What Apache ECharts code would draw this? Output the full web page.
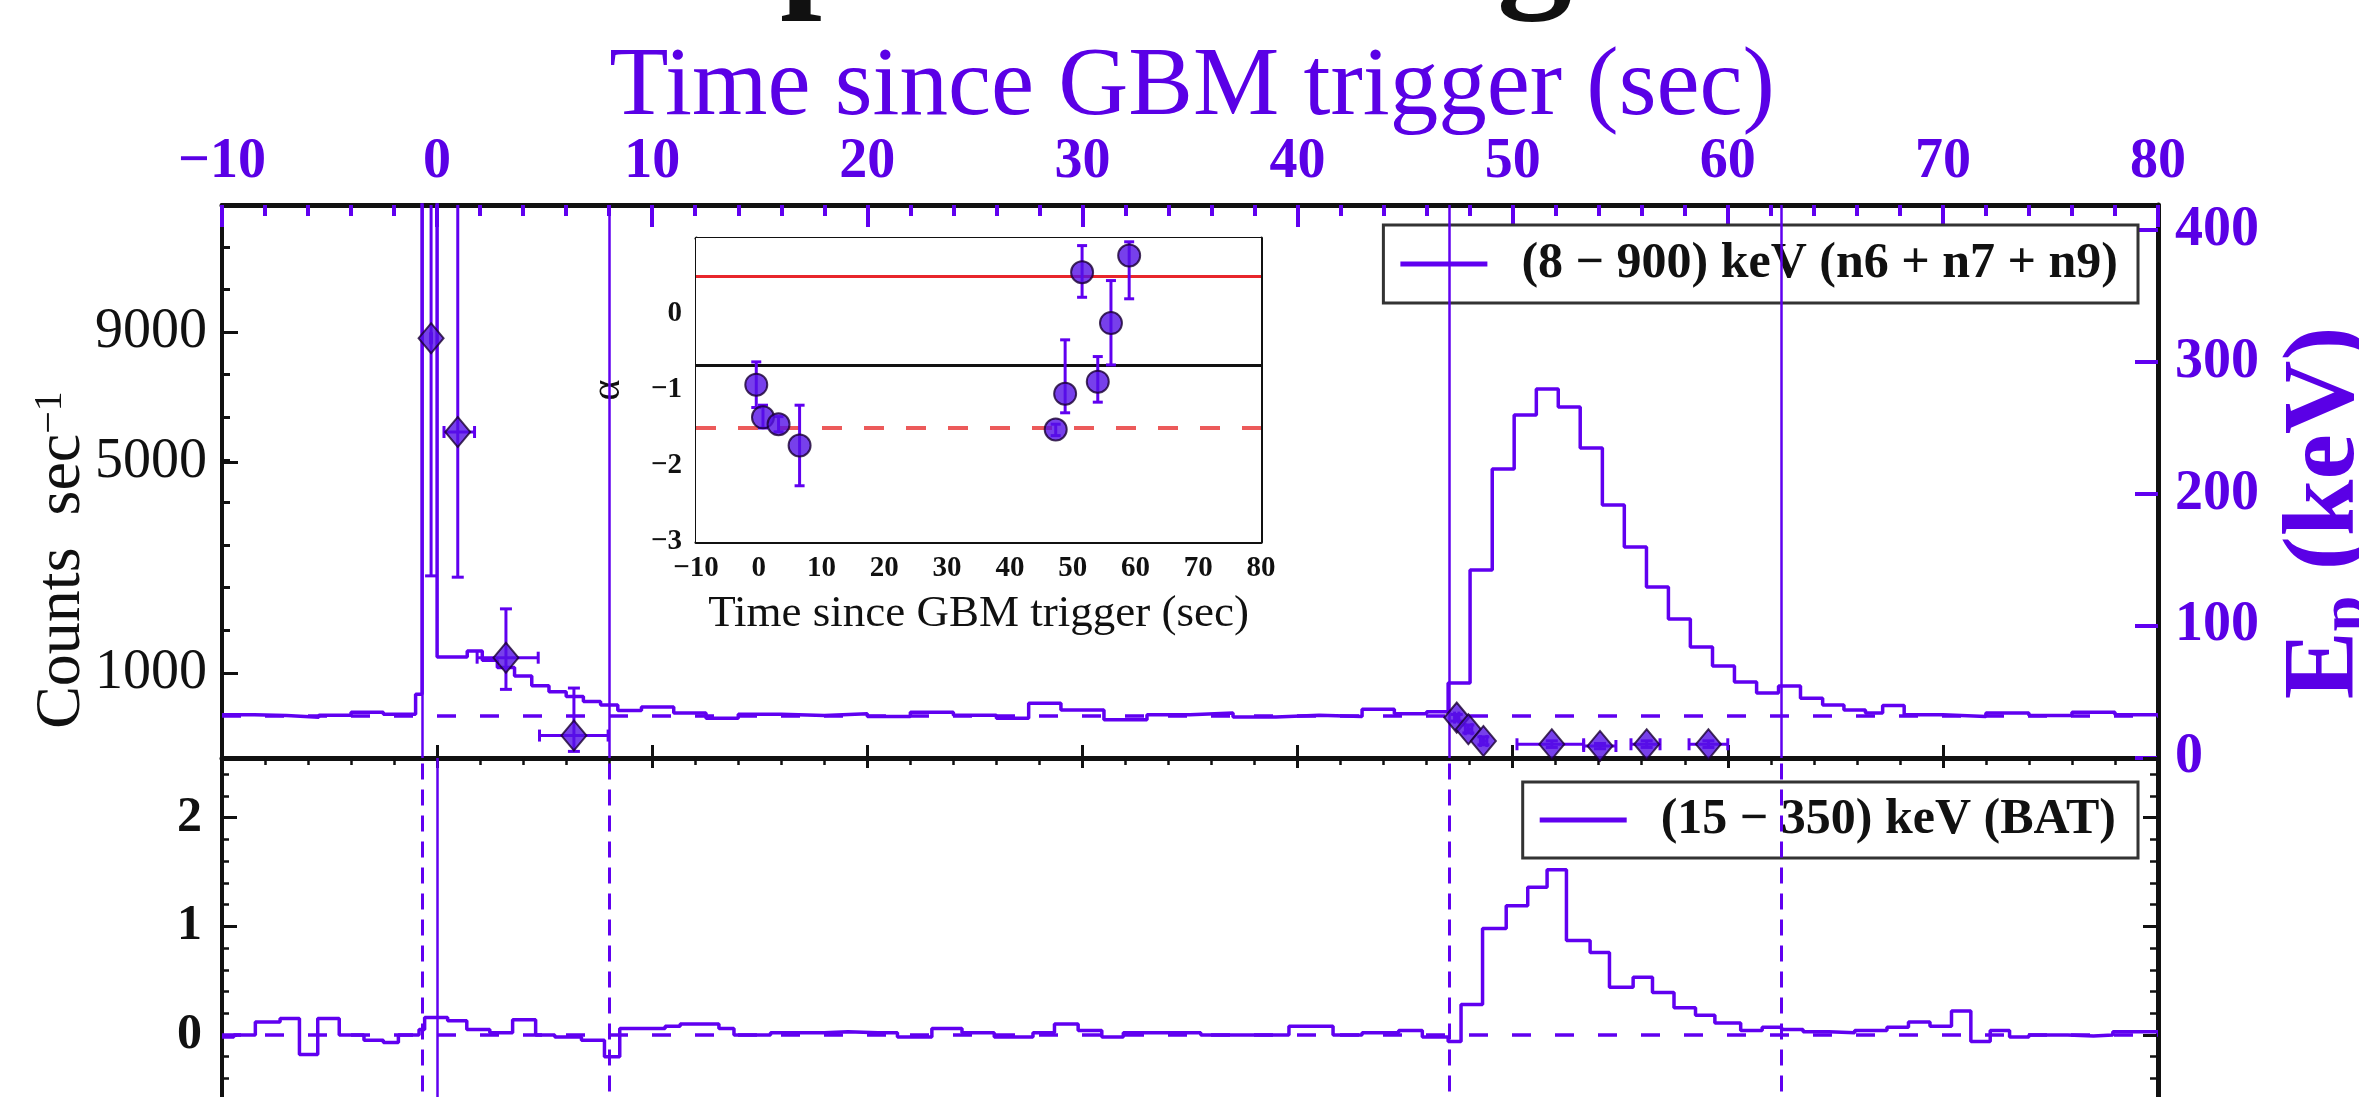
<!DOCTYPE html>
<html><head><meta charset="utf-8">
<script src="https://cdn.jsdelivr.net/npm/echarts@6/dist/echarts.min.js"></script>
<style>html,body{margin:0;padding:0;background:#fff;}#c{width:2359px;height:1097px;}</style>
</head><body><div id="c"></div>
<script>
// ---------------- data ----------------
const timeTicks = [-10, 0, 10, 20, 30, 40, 50, 60, 70, 80];
const countTicks = [1000, 5000, 9000];          // left axis (square-root scale)
const epTicks = [0, 100, 200, 300, 400];
const batTicks = [0, 1, 2];
const alphaTicks = [-3, -2, -1, 0];

const gbmName = '(8 − 900) keV (n6 + n7 + n9)';
const batName = '(15 − 350) keV (BAT)';

// GBM light curve: bin edges (s) and rates (counts/s)
const gbmEdges = [-10, -8.5, -7.0, -5.5, -4.0, -2.5, -1.0, -0.7, 0.0, 1.4, 2.1, 2.8, 3.6, 4.4, 5.2, 6.0, 6.8, 7.6, 8.4, 9.5,
  11, 12.5, 14, 16, 18, 20, 22, 24, 26, 27.5, 29, 31, 33, 35, 37, 39, 41, 43, 44.5, 46,
  47.0, 48.02, 49.05, 50.07, 51.1, 52.12, 53.14, 54.17, 55.19, 56.22, 57.24, 58.26, 59.29, 60.31, 61.34, 62.36, 63.38, 64.41,
  65.4, 66.4, 67.2, 68.2, 70, 72, 74, 76, 78, 80];
const gbmRates = [571, 564, 549, 567, 594, 575, 767, 40000, 1199, 1277, 1156, 1067, 966, 856, 793, 745, 694, 661, 609,
  641, 586, 541, 575, 564, 579, 556, 594, 567, 541, 678, 613, 527, 571, 586, 552, 567, 556, 621, 579, 598,
  887, 2575, 4827, 6320, 7111, 6559, 5384, 3944, 3026, 2265, 1735, 1329, 1085, 898, 780, 854, 728, 660,
  613, 586, 657, 571, 556, 586, 564, 594, 571];

// Swift/BAT light curve: bin edges (s) and rates
const batEdges = [-10, -9.45, -8.45, -7.3, -6.4, -5.55, -4.55, -3.4, -2.5, -1.8, -0.84, -0.58, 0.49, 1.38, 2.45, 3.51, 4.58, 5.47, 6.71, 7.78,
  8.49, 10.6, 11.3, 13.1, 13.8, 15.5, 18.0, 19.1, 20.5, 21.4, 23.0, 24.4, 25.9, 27.7, 28.7, 29.8, 30.9, 31.9, 35.5, 39.6, 41.65, 43.0, 44.7, 45.8,
  47.0, 47.6, 48.6, 49.7, 50.7, 51.6, 52.5, 53.6, 54.5, 55.6, 56.5, 57.5, 58.5, 59.4, 60.6, 61.6, 62.5, 63.5, 64.7, 65.9, 67.4, 68.4, 69.4,
  70.4, 71.3, 72.2, 73.1, 74.0, 75.8, 77.0, 77.9, 80];
const batRates = [-0.02, 0.0, 0.12, 0.15, -0.18, 0.15, 0.0, -0.05, -0.07, 0.0, 0.05, 0.16, 0.13, 0.05, 0.02, 0.14, 0.0, -0.02, -0.05, -0.2,
  0.06, 0.08, 0.1, 0.06, 0.0, 0.02, 0.03, 0.02, 0.02, -0.02, 0.06, 0.02, -0.02, 0.02, 0.1, 0.04, -0.02, 0.02, 0.0, 0.08, 0.0, 0.02, 0.04, -0.02,
  -0.06, 0.28, 0.98, 1.19, 1.36, 1.52, 0.87, 0.76, 0.44, 0.53, 0.39, 0.25, 0.18, 0.11, 0.04, 0.07, 0.05, 0.03, 0.02, 0.04, 0.07, 0.12,
  0.08, 0.22, -0.06, 0.04, -0.02, 0.0, -0.01, 0.0, 0.03];

// Peak energy Ep (keV) with errors
const epTime   = [-0.28, 0.96, 3.2, 6.36, 47.4, 47.94, 48.64, 51.82, 54.06, 56.23, 59.1];
const epTimeLo = [-0.3, 0.32, 1.86, 4.76, 47.3, 47.8, 48.5, 50.2, 53.3, 55.5, 58.2];
const epTimeHi = [-0.26, 1.74, 4.7, 7.95, 47.5, 48.1, 48.8, 53.3, 54.8, 56.85, 60.0];
const epVal    = [318, 247, 76, 17, 30.6, 21.8, 12.9, 10.4, 9.1, 10.4, 10.4];
const epLo     = [138, 137, 52, 5, 28, 19, 10, 8, 7, 8, 8];
const epHi     = [600, 600, 113, 53, 33, 25, 16, 13, 11, 13, 13];

// Low-energy index alpha (inset)
const alphaTime = [-0.4, 0.67, 3.15, 6.5, 47.3, 48.8, 51.5, 54.0, 56.1, 59.0];
const alphaVal  = [-0.93, -1.36, -1.45, -1.73, -1.52, -1.05, 0.55, -0.89, -0.12, 0.77];
const alphaLo   = [-1.23, -1.5, -1.55, -2.26, -1.6, -1.3, 0.22, -1.16, -0.67, 0.2];
const alphaHi   = [-0.63, -1.2, -1.35, -1.2, -1.45, -0.34, 0.9, -0.56, 0.44, 0.95];
const alphaRefSolidRed = 0.5;
const alphaRefBlack = -0.67;
const alphaRefDashedRed = -1.5;

const intervalMarks = [-0.7, 8.0, 47.05, 62.5];
const triggerMark = 0.0;
const gbmBackground = 564;
const batBackground = 0;

// ---------------- styling / layout ----------------
const FONT = 'Liberation Serif';
const PURPLE = '#6000f0';
const TPURPLE = '#5a00e6';
const BLACK = '#111';
const countAxisMin = 252, countAxisMax = 14034;   // counts/s at the panel edges
const sqMin = Math.sqrt(countAxisMin), sqMax = Math.sqrt(countAxisMax);
const sqMinorStep = 7.9;

function minus(v) { return v < 0 ? '−' + Math.abs(v) : String(v); }
function stepData(edges, rates, f) {
  return edges.map((e, i) => { const r = rates[Math.min(i, rates.length - 1)]; return [e, f ? f(r) : r]; });
}
function errData(x, xl, xh, y, yl, yh) {
  return x.map((v, i) => [v, y[i], xl ? xl[i] : v, xh ? xh[i] : v, yl[i], yh[i]]);
}
function errRender(color, width, cap) {
  return function (params, api) {
    const x = api.value(0), y = api.value(1), xl = api.value(2), xh = api.value(3), yl = api.value(4), yh = api.value(5);
    const a = api.coord([xl, y]), b = api.coord([xh, y]);
    const lo = api.coord([x, yl]), hi = api.coord([x, yh]);
    const st = { stroke: color, lineWidth: width };
    const ch = [];
    if (xh > xl) {
      ch.push({ type: 'line', shape: { x1: a[0], y1: a[1], x2: b[0], y2: b[1] }, style: st });
      ch.push({ type: 'line', shape: { x1: a[0], y1: a[1] - cap, x2: a[0], y2: a[1] + cap }, style: st });
      ch.push({ type: 'line', shape: { x1: b[0], y1: b[1] - cap, x2: b[0], y2: b[1] + cap }, style: st });
    }
    if (yh > yl) {
      ch.push({ type: 'line', shape: { x1: lo[0], y1: lo[1], x2: hi[0], y2: hi[1] }, style: st });
      ch.push({ type: 'line', shape: { x1: lo[0] - cap, y1: lo[1], x2: lo[0] + cap, y2: lo[1] }, style: st });
      ch.push({ type: 'line', shape: { x1: hi[0] - cap, y1: hi[1], x2: hi[0] + cap, y2: hi[1] }, style: st });
    }
    return { type: 'group', children: ch };
  };
}
const noLabel = { show: false };
const noSplit = { show: false };
function line(color, width) { return { show: true, onZero: false, lineStyle: { color: color, width: width } }; }
const noLine = { show: false, onZero: false };

const chart = echarts.init(document.getElementById('c'), null, { renderer: 'canvas' });

const option = {
  animation: false,
  backgroundColor: '#fff',
  grid: [
    { left: 222, top: 205, width: 1936, height: 553, outerBoundsMode: 'none', containLabel: false },
    { left: 222, top: 758, width: 1936, height: 385.5, outerBoundsMode: 'none', containLabel: false },
    { left: 696, top: 238, width: 565, height: 304, show: true, backgroundColor: '#fff', borderWidth: 0, z: 3, outerBoundsMode: 'none', containLabel: false }
  ],
  xAxis: [
    { gridIndex: 0, type: 'value', position: 'top', min: -10, max: 80, interval: 10,
      axisLine: line(BLACK, 5),
      axisTick: { show: true, inside: true, length: 22, lineStyle: { color: PURPLE, width: 4 } },
      minorTick: { show: true, splitNumber: 5, length: 11, lineStyle: { color: PURPLE, width: 4 } },
      axisLabel: { show: true, margin: 14, color: TPURPLE, fontFamily: FONT, fontSize: 56, fontWeight: 'bold',
        formatter: v => timeTicks.includes(v) ? minus(v) : '' },
      splitLine: noSplit },
    { gridIndex: 0, type: 'value', position: 'bottom', min: -10, max: 80, interval: 10,
      axisLine: line(BLACK, 5),
      axisTick: { show: true, inside: true, length: 13, lineStyle: { color: BLACK, width: 3 } },
      axisLabel: noLabel, splitLine: noSplit },
    { gridIndex: 1, type: 'value', position: 'top', min: -10, max: 80, interval: 10,
      axisLine: line(BLACK, 4),
      axisTick: { show: true, inside: true, length: 10, lineStyle: { color: BLACK, width: 3 } },
      minorTick: { show: true, splitNumber: 5, length: 7, lineStyle: { color: BLACK, width: 2.5 } },
      axisLabel: noLabel, splitLine: noSplit },
    { gridIndex: 2, type: 'value', position: 'bottom', min: -10, max: 80, interval: 10,
      axisLine: line(BLACK, 3),
      axisTick: { show: true, inside: true, length: 12, lineStyle: { color: BLACK, width: 2.5 } },
      axisLabel: { show: true, margin: 12, color: BLACK, fontFamily: FONT, fontSize: 29, fontWeight: 'bold', formatter: v => minus(v) },
      name: 'Time since GBM trigger (sec)', nameLocation: 'middle', nameGap: 50,
      nameTextStyle: { color: BLACK, fontFamily: FONT, fontSize: 45 },
      splitLine: noSplit },
    { gridIndex: 2, type: 'value', position: 'top', min: -10, max: 80, interval: 10,
      axisLine: line(BLACK, 3),
      axisTick: { show: true, inside: true, length: 12, lineStyle: { color: BLACK, width: 2.5 } },
      axisLabel: noLabel, splitLine: noSplit }
  ],
  yAxis: [
    { gridIndex: 0, type: 'value', position: 'left', min: sqMin, max: sqMax,
      axisLine: line(BLACK, 4),
      axisTick: { show: true, inside: true, length: 16, customValues: countTicks.map(Math.sqrt), lineStyle: { color: BLACK, width: 3 } },
      axisLabel: { show: true, margin: 15, color: BLACK, fontFamily: FONT, fontSize: 56, customValues: countTicks.map(Math.sqrt),
        formatter: v => { const c = Math.round(v * v); return countTicks.includes(c) ? String(c) : ''; } },
      splitLine: noSplit },
    { gridIndex: 0, type: 'value', position: 'left', min: sqMin, max: sqMax, interval: sqMinorStep,
      axisLine: noLine,
      axisTick: { show: true, inside: true, length: 8, lineStyle: { color: BLACK, width: 3 } },
      axisLabel: noLabel, splitLine: noSplit },
    { gridIndex: 0, type: 'value', position: 'right', min: 0, max: 419, interval: 100,
      axisLine: line(BLACK, 5),
      axisTick: { show: true, inside: true, length: 23, lineStyle: { color: PURPLE, width: 4 } },
      axisLabel: { show: true, margin: 17, color: TPURPLE, fontFamily: FONT, fontSize: 56, fontWeight: 'bold',
        showMaxLabel: false, formatter: v => epTicks.includes(v) ? String(v) : '' },
      splitLine: noSplit },
    { gridIndex: 1, type: 'value', position: 'left', min: -1, max: 2.55, interval: 1,
      axisLine: line(BLACK, 4),
      axisTick: { show: true, inside: true, length: 15, lineStyle: { color: BLACK, width: 3 } },
      axisLabel: { show: true, margin: 20, color: BLACK, fontFamily: FONT, fontSize: 50, fontWeight: 'bold',
        showMaxLabel: false, formatter: v => batTicks.includes(v) ? String(v) : '' },
      splitLine: noSplit },
    { gridIndex: 1, type: 'value', position: 'left', min: -1, max: 2.55, interval: 0.2,
      axisLine: noLine,
      axisTick: { show: true, inside: true, length: 7, lineStyle: { color: BLACK, width: 2.5 } },
      axisLabel: noLabel, splitLine: noSplit },
    { gridIndex: 1, type: 'value', position: 'right', min: -1, max: 2.55, interval: 1,
      axisLine: line(BLACK, 5),
      axisTick: { show: true, inside: true, length: 15, lineStyle: { color: BLACK, width: 3 } },
      axisLabel: noLabel, splitLine: noSplit },
    { gridIndex: 1, type: 'value', position: 'right', min: -1, max: 2.55, interval: 0.2,
      axisLine: noLine,
      axisTick: { show: true, inside: true, length: 8, lineStyle: { color: BLACK, width: 2.5 } },
      axisLabel: noLabel, splitLine: noSplit },
    { gridIndex: 2, type: 'value', position: 'left', min: -3, max: 1, interval: 1,
      axisLine: line(BLACK, 3),
      axisTick: { show: true, inside: true, length: 12, lineStyle: { color: BLACK, width: 2.5 } },
      axisLabel: { show: true, margin: 14, color: BLACK, fontFamily: FONT, fontSize: 29, fontWeight: 'bold',
        showMaxLabel: false, formatter: v => alphaTicks.includes(v) ? minus(v) : '' },
      name: 'α', nameLocation: 'middle', nameGap: 68, nameRotate: 90,
      nameTextStyle: { color: BLACK, fontFamily: FONT, fontSize: 40 },
      splitLine: noSplit },
    { gridIndex: 2, type: 'value', position: 'right', min: -3, max: 1, interval: 1,
      axisLine: line(BLACK, 3),
      axisTick: { show: true, inside: true, length: 12, lineStyle: { color: BLACK, width: 2.5 } },
      axisLabel: noLabel, splitLine: noSplit }
  ],
  legend: [
    { data: [gbmName], right: 221, top: 225, icon: 'rect', itemWidth: 87, itemHeight: 5, selectedMode: false,
      backgroundColor: '#fff', borderColor: '#333', borderWidth: 3, padding: [14, 20, 14, 17],
      textStyle: { color: BLACK, fontFamily: FONT, fontSize: 50, fontWeight: 'bold', padding: [0, 0, 0, 29] } },
    { data: [batName], right: 221, top: 782, icon: 'rect', itemWidth: 87, itemHeight: 5, selectedMode: false,
      backgroundColor: '#fff', borderColor: '#333', borderWidth: 3, padding: [13, 22, 13, 17],
      textStyle: { color: BLACK, fontFamily: FONT, fontSize: 50, fontWeight: 'bold', padding: [0, 0, 0, 29] } }
  ],
  graphic: [
    { type: 'text', x: 780, y: -50, style: { text: 'p', fontFamily: FONT, fontSize: 150, fontWeight: 'bold', fill: BLACK, verticalAlign: 'middle' } },
    { type: 'text', x: 1497, y: -50, style: { text: 'g', fontFamily: FONT, fontSize: 150, fontWeight: 'bold', fill: BLACK, verticalAlign: 'middle' } },
    { type: 'text', x: 1192, y: 89, style: { text: 'Time since GBM trigger (sec)', fontFamily: FONT, fontSize: 97, fill: TPURPLE, align: 'center', verticalAlign: 'middle' } },
    { type: 'text', x: 94, y: 560, rotation: Math.PI / 2,
      style: { text: '{a|Counts  sec}{b|−1}', align: 'center', verticalAlign: 'bottom',
        rich: { a: { fontFamily: FONT, fontSize: 64, fill: BLACK, lineHeight: 64 }, b: { fontFamily: FONT, fontSize: 40, fill: BLACK, verticalAlign: 'top', lineHeight: 64 } } } },
    { type: 'text', x: 2378, y: 513, rotation: Math.PI / 2,
      style: { text: '{a|E}{b|p}{a| (keV)}', align: 'center', verticalAlign: 'bottom',
        rich: { a: { fontFamily: FONT, fontSize: 102, fontWeight: 'bold', fill: TPURPLE, lineHeight: 102 }, b: { fontFamily: FONT, fontSize: 64, fontWeight: 'bold', fill: TPURPLE, verticalAlign: 'bottom', lineHeight: 102 } } } }
  ],
  series: [
    { name: gbmName, type: 'line', xAxisIndex: 0, yAxisIndex: 0, step: 'end', symbol: 'none', clip: true,
      data: stepData(gbmEdges, gbmRates, Math.sqrt), color: PURPLE, lineStyle: { color: PURPLE, width: 3.5 }, z: 2,
      markLine: { silent: true, symbol: ['none', 'none'], label: { show: false }, animation: false,
        data: intervalMarks.map(v => ({ xAxis: v, lineStyle: { color: PURPLE, width: 2.5, type: 'solid' } }))
          .concat([{ yAxis: Math.sqrt(gbmBackground), lineStyle: { color: PURPLE, width: 3.5, type: [19, 24] } }]) } },
    { type: 'custom', xAxisIndex: 0, yAxisIndex: 2, clip: true, z: 4,
      renderItem: errRender(PURPLE, 3, 6), encode: { x: 0, y: 1 },
      data: errData(epTime, epTimeLo, epTimeHi, epVal, epLo, epHi) },
    { type: 'scatter', xAxisIndex: 0, yAxisIndex: 2, symbol: 'diamond', symbolSize: [25, 30], z: 5,
      itemStyle: { color: '#5510e6', borderColor: '#1a0033', borderWidth: 2 },
      data: epTime.map((t, i) => [t, epVal[i]]) },
    { name: batName, type: 'line', xAxisIndex: 2, yAxisIndex: 3, step: 'end', symbol: 'none', clip: true,
      data: stepData(batEdges, batRates), color: PURPLE, lineStyle: { color: PURPLE, width: 3.5 }, z: 2,
      markLine: { silent: true, symbol: ['none', 'none'], label: { show: false }, animation: false,
        data: intervalMarks.map(v => ({ xAxis: v, lineStyle: { color: PURPLE, width: 3, type: [16, 10] } }))
          .concat([{ xAxis: triggerMark, lineStyle: { color: PURPLE, width: 2.5, type: 'solid' } },
                   { yAxis: batBackground, lineStyle: { color: PURPLE, width: 3.5, type: [19, 24] } }]) } },
    { type: 'custom', xAxisIndex: 3, yAxisIndex: 7, clip: true, z: 6,
      renderItem: errRender(PURPLE, 3, 5), encode: { x: 0, y: 1 },
      data: errData(alphaTime, null, null, alphaVal, alphaLo, alphaHi) },
    { type: 'scatter', xAxisIndex: 3, yAxisIndex: 7, symbol: 'circle', symbolSize: 22, z: 7,
      itemStyle: { color: '#5510e6', borderColor: '#1a0033', borderWidth: 2 },
      data: alphaTime.map((t, i) => [t, alphaVal[i]]),
      markLine: { silent: true, symbol: ['none', 'none'], label: { show: false }, animation: false, z: 5,
        data: [
          { yAxis: alphaRefSolidRed, lineStyle: { color: '#e8262b', width: 3, type: 'solid' } },
          { yAxis: alphaRefBlack, lineStyle: { color: BLACK, width: 3, type: 'solid' } },
          { yAxis: alphaRefDashedRed, lineStyle: { color: '#ec5a5a', width: 4, type: [20, 22] } }
        ] } }
  ]
};
chart.setOption(option);
</script></body></html>
